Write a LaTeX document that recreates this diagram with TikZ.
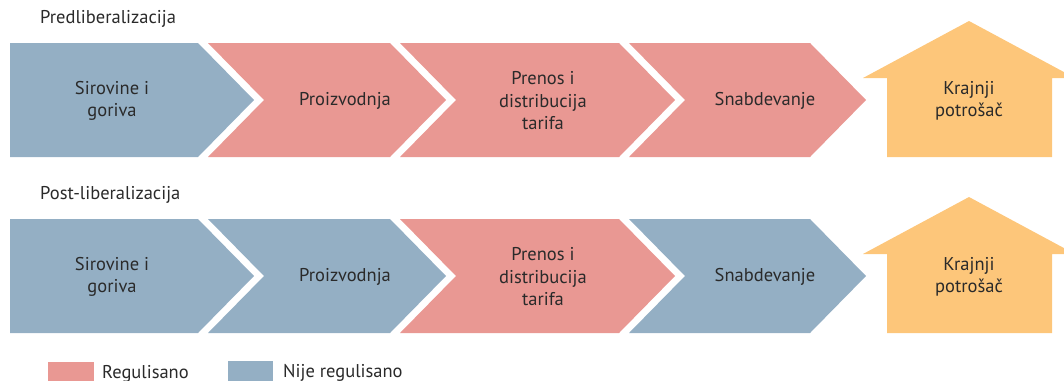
\documentclass[tikz,border=0pt]{standalone}
\usepackage{fontspec}
\setmainfont{PT Sans}
\definecolor{blu}{HTML}{94AFC4}
\definecolor{rose}{HTML}{E99893}
\definecolor{gold}{HTML}{FDC67A}
\definecolor{ink}{HTML}{2A2A2A}
\tikzset{
  lbl/.style={font=\fontsize{18.5}{22.5}\selectfont, text=ink, align=center, inner sep=0pt},
  head/.style={font=\fontsize{18.5}{22}\selectfont, text=ink, anchor=west, inner sep=0pt},
}
\begin{document}
\begin{tikzpicture}[x=1pt, y=-1pt]
  \useasboundingbox (0,0) rectangle (1064,380);
  \clip (0,0) rectangle (1064,380);
  % row 1: before liberalisation
  \node[head] (pre) at (40,19) {Predliberalizacija};
  \fill[blu] (10,43) -- (198,43) -- (254,100) -- (198,157) -- (10,157) -- cycle;
  \foreach \xa/\xb/\col in {208/390/rose, 400/619/rose, 629/810/rose}
    \fill[\col] (\xa,43) -- (\xb,43) -- (\xb+56,100) -- (\xb,157) -- (\xa,157) -- (\xa+56,100) -- cycle;
  \fill[gold] (863,78) -- (969,21) -- (1075,78) -- (1052,78) -- (1052,157) -- (887,157) -- (887,78) -- cycle;
  \node[lbl] (sir1) at (112,101) {Sirovine i\\goriva};
  \node[lbl] (pro1) at (345,101) {Proizvodnja};
  \node[lbl] (pre1) at (543,101) {Prenos i\\distribucija\\tarifa};
  \node[lbl] (sna1) at (765,101) {Snabdevanje};
  \node[lbl] (kra1) at (969,101) {Krajnji\\potrošač};
  % row 2: after liberalisation
  \node[head] (post) at (40,195) {Post-liberalizacija};
  \fill[blu] (10,219) -- (198,219) -- (254,276) -- (198,333) -- (10,333) -- cycle;
  \foreach \xa/\xb/\col in {208/390/blu, 400/619/rose, 629/810/blu}
    \fill[\col] (\xa,219) -- (\xb,219) -- (\xb+56,276) -- (\xb,333) -- (\xa,333) -- (\xa+56,276) -- cycle;
  \fill[gold] (863,254) -- (969,197) -- (1075,254) -- (1052,254) -- (1052,333) -- (887,333) -- (887,254) -- cycle;
  \node[lbl] (sir2) at (112,277) {Sirovine i\\goriva};
  \node[lbl] (pro2) at (345,277) {Proizvodnja};
  \node[lbl] (pre2) at (543,277) {Prenos i\\distribucija\\tarifa};
  \node[lbl] (sna2) at (765,277) {Snabdevanje};
  \node[lbl] (kra2) at (969,277) {Krajnji\\potrošač};
  % legend
  \fill[rose] (48,362) rectangle (94,385);
  \node[head] (reg) at (102,374) {Regulisano};
  \fill[blu] (228,361) rectangle (273,385);
  \node[head] (nreg) at (283,373) {Nije regulisano};
\end{tikzpicture}
\end{document}
